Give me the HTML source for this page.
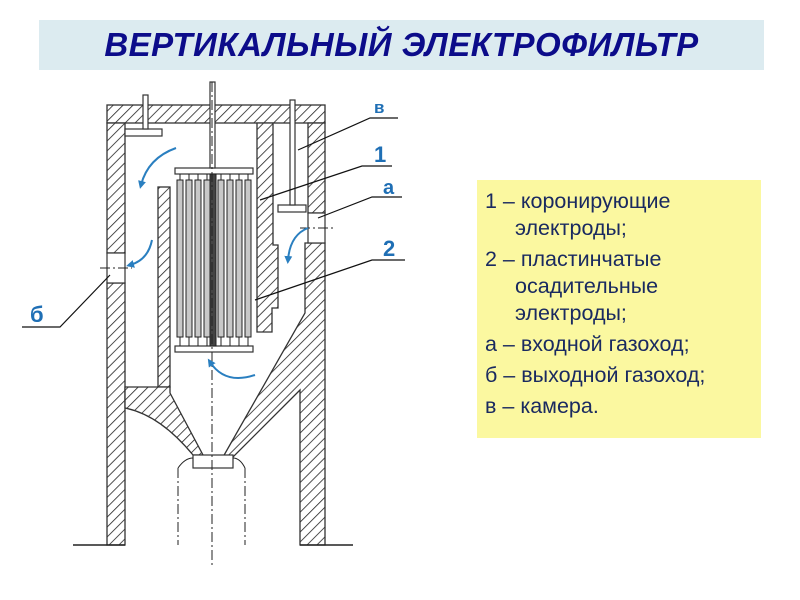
<!DOCTYPE html>
<html><head><meta charset="utf-8"><style>
html,body{margin:0;padding:0;background:#fff;}
body{width:800px;height:600px;position:relative;overflow:hidden;font-family:"Liberation Sans",sans-serif;}
.title{position:absolute;left:39px;top:20px;width:725px;height:50px;background:#dcebf0;text-align:center;line-height:50px;font-size:33px;font-weight:bold;font-style:italic;color:#0c0c8a;letter-spacing:0.5px;}
.legend{position:absolute;left:477px;top:180px;width:284px;height:258px;background:#fbf8a0;color:#1a2a60;font-size:21.5px;line-height:27px;box-sizing:border-box;padding:8px 0 0 8px;white-space:nowrap;}
.legend div{margin:0;}
.ind{padding-left:30px;}
.g{margin-top:4px !important;}
</style></head><body>
<div class="title">ВЕРТИКАЛЬНЫЙ ЭЛЕКТРОФИЛЬТР</div>
<div class="legend">
<div>1 – коронирующие</div>
<div class="ind">электроды;</div>
<div class="g">2 – пластинчатые</div>
<div class="ind">осадительные</div>
<div class="ind">электроды;</div>
<div class="g">а – входной газоход;</div>
<div class="g">б – выходной газоход;</div>
<div class="g">в – камера.</div>
</div>
<svg width="800" height="600" style="position:absolute;left:0;top:0" xmlns="http://www.w3.org/2000/svg">
<defs>
<pattern id="h" width="7" height="7" patternUnits="userSpaceOnUse" patternTransform="rotate(45)">
<rect width="7" height="7" fill="#fff"/><line x1="0" y1="0" x2="0" y2="7" stroke="#222" stroke-width="1.6"/>
</pattern>
<marker id="ar" markerWidth="8" markerHeight="8" refX="4" refY="4" orient="auto" markerUnits="userSpaceOnUse">
<path d="M0,0 L8,4 L0,8 Z" fill="#2a7fc0"/></marker>
</defs>
<g stroke="#333" stroke-width="1.3" fill="url(#h)">
<rect x="107" y="105" width="218" height="18"/>
<rect x="107" y="123" width="18" height="130"/>
<rect x="107" y="283" width="18" height="262"/>
<rect x="158" y="187" width="12" height="200"/>
<path d="M125,387 L170,387 L170,393 L203,455 L193,455 Q160,415 125,408 Z"/>
<path d="M257,123 L273,123 L273,245 L278,245 L278,308 L272,308 L272,332 L257,332 Z"/>
<rect x="308" y="123" width="17" height="90"/>
<path d="M305,243 L325,243 L325,545 L300,545 L300,390 Q270,420 233,457 L223,457 L305,313 Z"/>
</g>
<g stroke="#333" stroke-width="1.2" fill="#fff">
<rect x="107" y="253" width="18" height="30"/>
<rect x="308" y="213" width="17" height="30"/>
<rect x="193" y="455" width="40" height="13"/>
<rect x="175" y="168" width="78" height="6"/>
<rect x="175" y="346" width="78" height="6"/>
<rect x="125" y="129" width="37" height="7"/>
<rect x="278" y="205" width="28" height="7"/>
<rect x="143" y="95" width="5" height="34"/>
<rect x="290" y="100" width="5" height="105"/>
<rect x="210" y="82" width="5" height="86"/>
</g>
<g stroke="#222" stroke-width="1" fill="#c8c8c8">
<rect x="177" y="180" width="6" height="157"/><rect x="186" y="180" width="6" height="157"/>
<rect x="195" y="180" width="6" height="157"/><rect x="204" y="180" width="6" height="157"/>
<rect x="218" y="180" width="6" height="157"/><rect x="227" y="180" width="6" height="157"/>
<rect x="236" y="180" width="6" height="157"/><rect x="245" y="180" width="6" height="157"/>
<rect x="210" y="174" width="6" height="172" fill="#444"/>
</g>
<g stroke="#222" stroke-width="1">
<path d="M180,174V180M189,174V180M198,174V180M207,174V180M221,174V180M230,174V180M239,174V180M248,174V180"/>
<path d="M180,337V346M189,337V346M198,337V346M207,337V346M221,337V346M230,337V346M239,337V346M248,337V346"/>
<path d="M73,545H125M300,545H353" stroke-width="1.4"/>
</g>
<g stroke="#222" stroke-width="1" stroke-dasharray="10,3,2,3" fill="none">
<path d="M212,82V565M178,468V545M245,468V545M100,268H132M300,228H335"/>
<path d="M178,468 Q185,458 193,458 M245,468 Q240,458 233,458" stroke-dasharray="none"/>
</g>
<g stroke="#2a7fc0" stroke-width="2" fill="none" marker-end="url(#ar)">
<path d="M176,148 Q148,158 141,185"/>
<path d="M152,240 Q148,260 130,265"/>
<path d="M308,228 Q290,235 288,260"/>
<path d="M255,375 Q225,385 210,362"/>
</g>
<g stroke="#111" stroke-width="1.2" fill="none">
<path d="M398,118H370L298,150"/>
<path d="M392,166H362L260,200"/>
<path d="M402,197H372L318,218"/>
<path d="M405,260H372L255,300"/>
<path d="M22,327H60L110,275"/>
</g>
<g fill="#1f6fb5" font-family="Liberation Sans,sans-serif" font-weight="bold">
<text x="374" y="113" font-size="17">в</text>
<text x="374" y="162" font-size="22">1</text>
<text x="383" y="194" font-size="20">а</text>
<text x="383" y="256" font-size="22">2</text>
<text x="30" y="322" font-size="22">б</text>
</g>
</svg>
</body></html>
